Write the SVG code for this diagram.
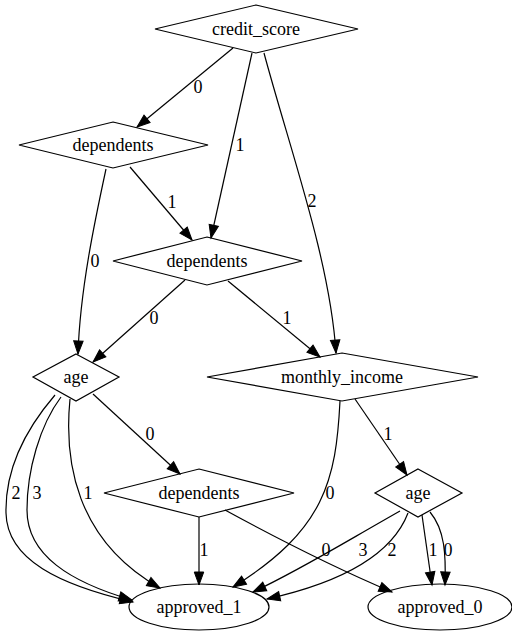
<svg xmlns="http://www.w3.org/2000/svg" width="512" height="639" viewBox="0 0 512 639">
  <style>
    .shape { fill: none; stroke: #000; stroke-width: 1.2; }
    .edge { fill: none; stroke: #000; stroke-width: 1.2; marker-end: url(#arrow); }
    .lbl { font-family: "Liberation Serif", "Times New Roman", "DejaVu Serif", serif; font-size: 18px; fill: #000; text-anchor: middle; }
  </style>
  <defs>
    <marker id="arrow" markerUnits="userSpaceOnUse" markerWidth="14" markerHeight="10" refX="13" refY="4.75" orient="auto" overflow="visible">
      <polygon points="0,0 13,4.75 0,9.5" fill="#000" stroke="#000" stroke-width="1"/>
    </marker>
  </defs>
  <rect width="512" height="639" fill="#fff"/>

  <g id="connectors">
    <path class="edge" d="M233,48 L137,127"/>
    <text class="lbl" x="198" y="93">0</text>
    <path class="edge" d="M252,53 L211,238"/>
    <text class="lbl" x="240" y="151">1</text>
    <path class="edge" d="M264,53 C290,150 330,260 336,353"/>
    <text class="lbl" x="312" y="207">2</text>
    <path class="edge" d="M106,169 C95,220 80,290 78,354"/>
    <text class="lbl" x="95" y="267">0</text>
    <path class="edge" d="M130,167 L192,240"/>
    <text class="lbl" x="172" y="208">1</text>
    <path class="edge" d="M185,280 L93,362"/>
    <text class="lbl" x="154" y="324">0</text>
    <path class="edge" d="M228,281 L320,357"/>
    <text class="lbl" x="287" y="324">1</text>
    <path class="edge" d="M55,395 C25,430 5,470 6,513 C7,560 60,585 133,602"/>
    <text class="lbl" x="16" y="499">2</text>
    <path class="edge" d="M61,397 C40,425 27,470 27,510 C27,555 70,582 132,600"/>
    <text class="lbl" x="37" y="499">3</text>
    <path class="edge" d="M70,399 C64,460 75,540 160,588"/>
    <text class="lbl" x="88" y="499">1</text>
    <path class="edge" d="M93,394 L180,474"/>
    <text class="lbl" x="150" y="440">0</text>
    <path class="edge" d="M340,401 C336,480 325,530 233,587"/>
    <text class="lbl" x="330" y="499">0</text>
    <path class="edge" d="M355,399 L407,475"/>
    <text class="lbl" x="388" y="440">1</text>
    <path class="edge" d="M199,517 L199,585"/>
    <text class="lbl" x="204" y="556">1</text>
    <path class="edge" d="M225,510 C280,540 340,570 392,592"/>
    <text class="lbl" x="326" y="556">0</text>
    <path class="edge" d="M400,511 C340,545 300,570 253,592"/>
    <text class="lbl" x="363" y="556">3</text>
    <path class="edge" d="M408,513 C390,560 330,585 267,599"/>
    <text class="lbl" x="392" y="556">2</text>
    <path class="edge" d="M422,515 L432,585"/>
    <text class="lbl" x="433" y="556">1</text>
    <path class="edge" d="M430,512 C445,530 446,555 445,585"/>
    <text class="lbl" x="448" y="556">0</text>
  </g>

  <g id="credit_score">
    <polygon class="shape" points="256,5 358,29 256,53 155,29"/>
    <text class="lbl" x="256" y="35">credit_score</text>
  </g>
  <g id="dependents_a">
    <polygon class="shape" points="113,122 208,145 113,168 19,145"/>
    <text class="lbl" x="113" y="151">dependents</text>
  </g>
  <g id="dependents_b">
    <polygon class="shape" points="207,237 302,261 207,285 113,261"/>
    <text class="lbl" x="207" y="267">dependents</text>
  </g>
  <g id="age_a">
    <polygon class="shape" points="76,354 119,377 76,401 33,377"/>
    <text class="lbl" x="76" y="383">age</text>
  </g>
  <g id="monthly_income">
    <polygon class="shape" points="342,353 478,377 342,401 207,377"/>
    <text class="lbl" x="342" y="383">monthly_income</text>
  </g>
  <g id="dependents_c">
    <polygon class="shape" points="199,469 294,493 199,517 104,493"/>
    <text class="lbl" x="199" y="499">dependents</text>
  </g>
  <g id="age_b">
    <polygon class="shape" points="418,469 462,493 418,517 375,493"/>
    <text class="lbl" x="418" y="499">age</text>
  </g>
  <g id="approved_1">
    <ellipse class="shape" cx="199" cy="607" rx="70" ry="23"/>
    <text class="lbl" x="199" y="613">approved_1</text>
  </g>
  <g id="approved_0">
    <ellipse class="shape" cx="440" cy="607" rx="72" ry="23"/>
    <text class="lbl" x="440" y="613">approved_0</text>
  </g>
</svg>
